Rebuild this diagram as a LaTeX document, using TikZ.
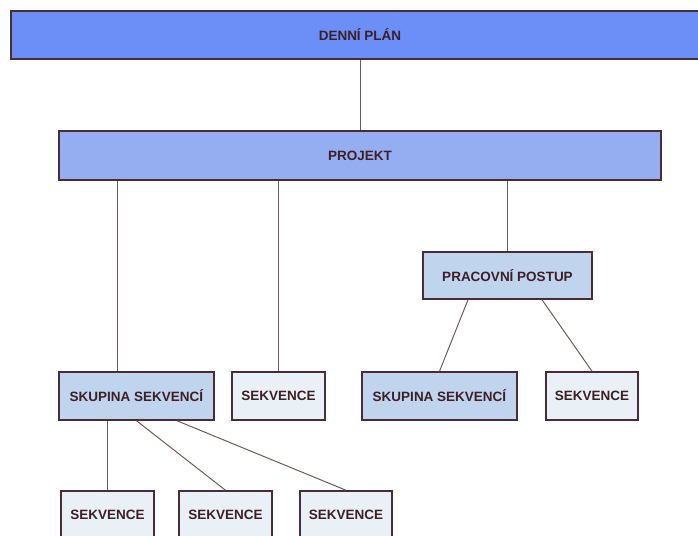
\documentclass[tikz,border=0pt]{standalone}
\usepackage{fontspec}
\setmainfont{Liberation Sans}
\usepackage{tikz}
\usetikzlibrary{positioning}
\definecolor{edgebrown}{HTML}{4B2C33}
\definecolor{linebrown}{HTML}{6E5B55}
\definecolor{textbrown}{HTML}{3C2026}
\definecolor{planblue}{HTML}{6B8FF7}
\definecolor{projblue}{HTML}{95AEF2}
\definecolor{groupblue}{HTML}{C0D4EE}
\definecolor{seqwhite}{HTML}{EAF1F6}
\tikzstyle{line} = [line width=1pt, draw=linebrown]

\begin{document}
\begin{tikzpicture}[ x = 1pt,
                     y = -1pt
                   ]

\tikzset{box/.style = {rectangle, draw = edgebrown, line width = 1.5pt, inner sep = 0pt,
                       minimum height = 48pt, text = textbrown,
                       font = \bfseries\fontsize{13.5}{16}\selectfont, align = center},
         plan/.style = {box, fill = planblue, minimum width = 698pt},
         proj/.style = {box, fill = projblue, minimum width = 602pt, minimum height = 49pt},
         group/.style = {box, fill = groupblue, minimum width = 155pt},
         seq/.style = {box, fill = seqwhite, minimum width = 93pt}}

\useasboundingbox (0,0) rectangle (698,535);

\node[plan] (denniplan) at (360,35) {DENNÍ PLÁN};
\node[proj] (projekt) at (360,155.5) {PROJEKT};
\node[group, minimum width = 169pt, minimum height = 47pt] (postup) at (507.5,275.5) {PRACOVNÍ POSTUP};

\node[group] (skupinaA) at (136.5,396) {SKUPINA SEKVENCÍ};
\node[seq] (sekvB) at (278.5,396) {SEKVENCE};
\node[group] (skupinaC) at (439.5,396) {SKUPINA SEKVENCÍ};
\node[seq, minimum width = 92pt] (sekvD) at (592,396) {SEKVENCE};

\node[seq] (sekvE) at (107.5,515) {SEKVENCE};
\node[seq] (sekvF) at (225.5,515) {SEKVENCE};
\node[seq, minimum width = 92pt] (sekvG) at (346,515) {SEKVENCE};

\draw[line] (denniplan) -- (projekt);
\draw[line] ([xshift=-19.5pt]skupinaA.north |- projekt.south) -- ([xshift=-19.5pt]skupinaA.north);
\draw[line] (projekt.south -| sekvB.north) -- (sekvB.north);
\draw[line] (projekt.south -| postup.north) -- (postup.north);
\draw[line] ([xshift=-39.5pt]postup.south) -- (skupinaC.north);
\draw[line] ([xshift=34.5pt]postup.south) -- (sekvD.north);
\draw[line] (skupinaA.south -| sekvE.north) -- (sekvE.north);
\draw[line] (skupinaA.south) -- (sekvF.north);
\draw[line] ([xshift=40.5pt]skupinaA.south) -- (sekvG.north);

\end{tikzpicture}
\end{document}
